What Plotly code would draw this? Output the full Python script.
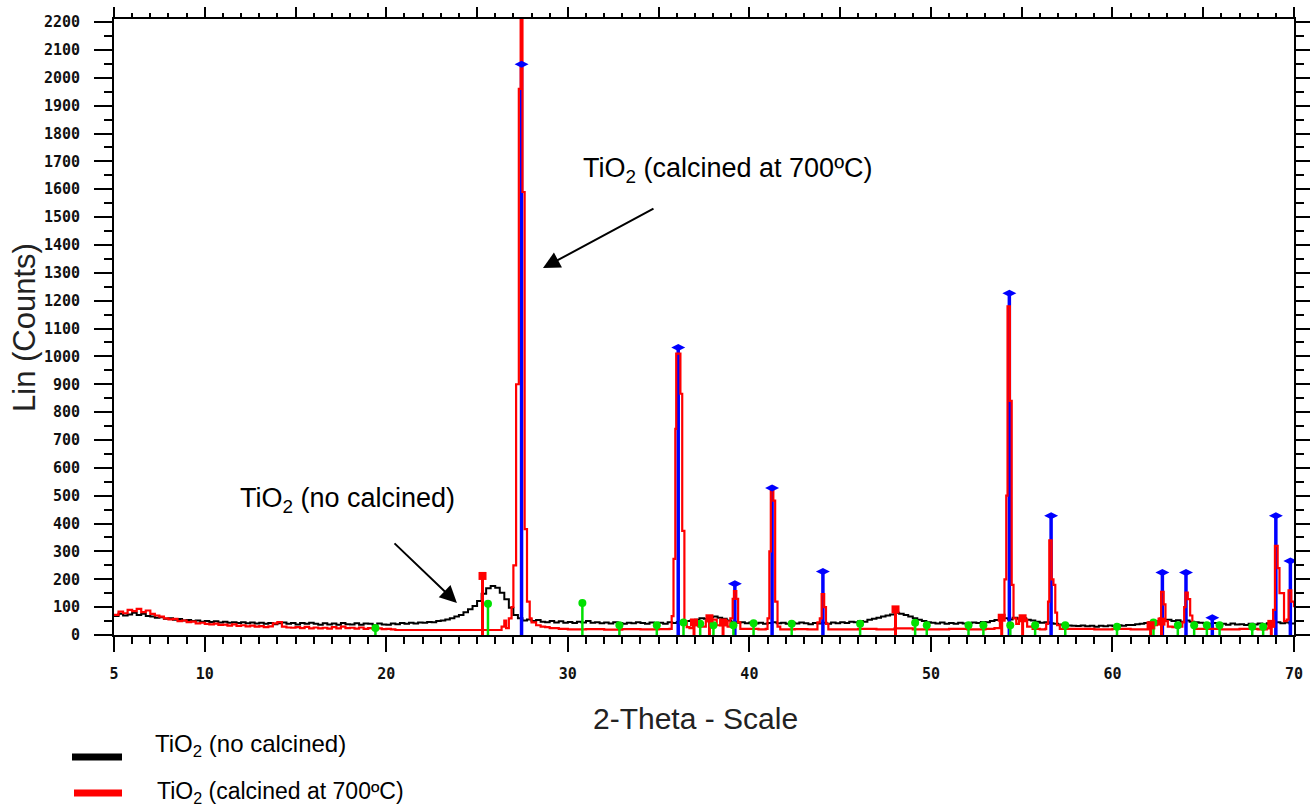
import plotly.graph_objects as go

# ---------------------------------------------------------------- data
# TiO2 (no calcined): step scan from 5 to 70 deg 2-theta, 0.25 deg step
black_start, black_step = 5.0, 0.25
black_counts = [
    68, 76, 70, 74,   80, 72, 76, 68,   66, 62, 64, 58,   60, 55, 57, 52,   # 5-9
    54, 50, 52, 48,   50, 47, 49, 45,   48, 44, 46, 43,   46, 42, 45, 41,   # 9-13
    44, 40, 43, 39,   42, 45, 40, 43,   38, 43, 40, 44,   40, 37, 42, 38,   # 13-17
    41, 37, 43, 39,   38, 42, 37, 41,   40, 36, 41, 38,   37, 41, 39, 43,   # 17-21
    40, 44, 41, 45,   44, 47, 46, 50,   52, 56, 60, 66,   72, 82, 92, 104,  # 21-25
    122, 148, 168, 176, 170, 152, 128, 98, 72, 60, 52, 56, 50, 54, 48, 46,  # 25-29
    50, 45, 49, 44,   47, 43, 48, 45,   50, 44, 46, 42,   45, 41, 46, 43,   # 29-33
    40, 44, 42, 46,   43, 40, 45, 42,   44, 40, 46, 43,   47, 44, 50, 52,   # 33-37
    55, 60, 58, 64,   66, 62, 58, 52,   48, 44, 46, 42,   45, 41, 44, 40,   # 37-41
    43, 46, 42, 44,   40, 44, 41, 45,   42, 39, 43, 41,   44, 40, 45, 42,   # 41-45
    46, 43, 48, 46,   50, 48, 55, 58,   62, 66, 70, 74,   80, 76, 72, 66,   # 45-49
    60, 55, 50, 46,   44, 41, 45, 40,   43, 40, 44, 41,   42, 45, 43, 47,   # 49-53
    46, 50, 54, 58,   60, 56, 62, 58,   60, 55, 52, 48,   44, 46, 42, 40,   # 53-57
    38, 36, 34, 33,   32, 34, 31, 33,   30, 33, 31, 34,   32, 35, 33, 36,   # 57-61
    36, 39, 40, 43,   46, 50, 48, 52,   55, 50, 53, 48,   52, 48, 46, 44,   # 61-65
    42, 40, 43, 39,   40, 37, 41, 38,   39, 36, 40, 38,   41, 38, 42, 45,   # 65-69
    46, 42, 45, 41,   40,                                                     # 69-70
]
black_theta = [black_start + black_step * i for i in range(len(black_counts))]

# TiO2 (calcined at 700 C): (2-theta, counts)
red_points = [
    (5.0, 72), (5.25, 84), (5.5, 78), (5.75, 90), (6.0, 86), (6.25, 94), (6.5, 82), (6.75, 88),
    (7.0, 76), (7.25, 70), (7.5, 66), (7.75, 60), (8.0, 56), (8.25, 58), (8.5, 50), (8.75, 52),
    (9.0, 46), (9.25, 48), (9.5, 42), (9.75, 44), (10.0, 40), (10.25, 38), (10.5, 41), (10.75, 36),
    (11.0, 37), (11.25, 34), (11.5, 38), (11.75, 33), (12.0, 35), (12.25, 31), (12.5, 34), (12.75, 30),
    (13.0, 32), (13.25, 28), (13.5, 31), (13.75, 42), (14.0, 46), (14.25, 30), (14.5, 27), (14.75, 26),
    (15.0, 28), (15.25, 25), (15.5, 29), (15.75, 24), (16.0, 27), (16.25, 24), (16.5, 26), (16.75, 23),
    (17.0, 28), (17.25, 24), (17.5, 30), (17.75, 25), (18.0, 26), (18.25, 23), (18.5, 27), (18.75, 22),
    (19.0, 25), (19.25, 22), (19.5, 24), (19.75, 21), (20.0, 22), (20.25, 20), (20.5, 18), (26.2, 18),
    (26.35, 30), (26.5, 52), (26.6, 25), (26.75, 60), (26.9, 100), (27.0, 250), (27.15, 900),
    (27.3, 1960), (27.4, 2350), (27.5, 1590), (27.62, 380), (27.75, 120), (27.9, 60), (28.0, 45),
    (28.25, 35), (28.5, 30), (28.75, 28), (29.0, 25), (29.5, 22), (30.0, 20), (31.0, 21), (32.0, 19),
    (33.0, 21), (34.0, 20), (35.0, 21), (35.6, 22), (35.72, 68), (35.82, 273), (35.92, 740),
    (35.97, 1010), (36.2, 866), (36.3, 374), (36.42, 50), (36.55, 28), (36.7, 25), (36.9, 45),
    (37.2, 30), (37.6, 50), (37.9, 55), (38.2, 35), (38.5, 50), (38.8, 30), (38.95, 60), (39.08, 130),
    (39.15, 158), (39.28, 130), (39.38, 45), (39.5, 22), (40.0, 22), (40.5, 20), (40.9, 22), (41.0, 60),
    (41.1, 300), (41.18, 532), (41.32, 482), (41.42, 120), (41.55, 30), (41.7, 20), (42.5, 21),
    (43.2, 20), (43.75, 45), (43.88, 60), (43.98, 147), (44.12, 100), (44.22, 40), (44.35, 20),
    (45.0, 20), (46.0, 22), (47.0, 20), (48.0, 24), (49.0, 20), (50.0, 20), (51.0, 22), (52.0, 20),
    (53.0, 22), (53.5, 25), (53.8, 55), (53.95, 70), (54.05, 200), (54.15, 500), (54.22, 1180),
    (54.35, 840), (54.45, 180), (54.55, 60), (54.7, 40), (54.85, 60), (55.1, 55), (55.3, 30),
    (55.6, 22), (56.0, 20), (56.3, 22), (56.35, 40), (56.45, 120), (56.52, 340), (56.65, 200),
    (56.75, 180), (56.85, 80), (56.95, 35), (57.1, 22), (58.0, 22), (59.0, 20), (60.0, 22), (61.0, 20),
    (62.0, 24), (62.3, 35), (62.45, 50), (62.6, 60), (62.68, 155), (62.82, 110), (62.92, 50),
    (63.05, 30), (63.3, 28), (63.6, 30), (63.85, 45), (63.95, 100), (64.02, 152), (64.15, 129),
    (64.28, 70), (64.4, 35), (64.55, 22), (65.0, 22), (66.0, 20), (67.0, 22), (68.0, 20), (68.5, 24),
    (68.7, 50), (68.85, 90), (68.95, 320), (69.1, 240), (69.2, 150), (69.35, 150), (69.45, 50),
    (69.6, 55), (69.7, 160), (69.85, 120), (70.0, 100),
]
red_theta = [p[0] for p in red_points]
red_counts = [p[1] for p in red_points]

# reference patterns (stick positions and intensities)
rutile_theta = [27.45, 36.08, 39.2, 41.25, 44.05, 54.32, 56.62, 62.75, 64.05, 65.5, 69.0, 69.8]
rutile_counts = [2049, 1032, 184, 528, 228, 1227, 428, 224, 224, 62, 428, 266]

anatase_theta = [25.3, 36.95, 37.8, 38.55, 48.05, 53.9, 55.05, 62.1, 62.7, 68.75]
anatase_counts = [212, 45, 60, 45, 92, 62, 60, 35, 48, 40]

third_theta = [19.4, 25.6, 30.8, 32.84, 34.9, 36.37, 37.29, 38.02, 39.12, 40.23, 42.33, 46.1,
               49.13, 49.77, 52.07, 52.89, 54.37, 55.74, 57.4, 60.25, 62.26, 63.6, 64.5, 65.2,
               65.9, 67.7, 68.3]
third_counts = [25, 112, 115, 35, 35, 45, 40, 35, 35, 42, 40, 40, 44, 35, 35, 35, 35, 35, 35, 30,
                45, 35, 35, 35, 35, 30, 30]

y_ticks = list(range(0, 2201, 100))
x_ticks = [5, 10, 20, 30, 40, 50, 60, 70]

# ---------------------------------------------------------------- layout geometry
W, H = 1310, 808
PL, PR, PT, PB = 114, 1294, 19, 635


def px_x(px):
    return (px - PL) / (PR - PL)


def px_y(py):
    return (PB - py) / (PB - PT)


def sticks(thetas, heights):
    xs, ys = [], []
    for t, h in zip(thetas, heights):
        xs += [t, t, None]
        ys += [0, h, None]
    return xs, ys


BLACK, RED, BLUE, GREEN = "#000000", "#ff0000", "#0000ff", "#00e000"
TXT = "Liberation Sans, Arial, sans-serif"

fig = go.Figure()

fig.add_trace(go.Scatter(x=black_theta, y=black_counts, mode="lines", line_shape="hv",
                         line=dict(color=BLACK, width=2), hoverinfo="skip", showlegend=False))

bx, by = sticks(rutile_theta, rutile_counts)
fig.add_trace(go.Scatter(x=bx, y=by, mode="lines", line=dict(color=BLUE, width=3.5),
                         hoverinfo="skip", showlegend=False))

fig.add_trace(go.Scatter(x=red_theta, y=red_counts, mode="lines", line_shape="hv",
                         line=dict(color=RED, width=2.2), hoverinfo="skip", showlegend=False))

ax_, ay_ = sticks(anatase_theta, anatase_counts)
fig.add_trace(go.Scatter(x=ax_, y=ay_, mode="lines", line=dict(color=RED, width=3),
                         hoverinfo="skip", showlegend=False))

gx, gy = sticks(third_theta, third_counts)
fig.add_trace(go.Scatter(x=gx, y=gy, mode="lines", line=dict(color=GREEN, width=2.5),
                         hoverinfo="skip", showlegend=False))

fig.add_trace(go.Scatter(x=third_theta, y=third_counts, mode="markers",
                         marker=dict(symbol="circle", size=8, color=GREEN),
                         hoverinfo="skip", showlegend=False))
fig.add_trace(go.Scatter(x=anatase_theta, y=anatase_counts, mode="markers",
                         marker=dict(symbol="square", size=8, color=RED),
                         hoverinfo="skip", showlegend=False))
fig.add_trace(go.Scatter(x=rutile_theta, y=rutile_counts, mode="markers",
                         marker=dict(symbol="diamond-wide", size=10, color=BLUE),
                         hoverinfo="skip", showlegend=False))

# carrier for the top tick scale
fig.add_trace(go.Scatter(x=[5, 70], y=[0, 0], xaxis="x2", mode="lines",
                         line=dict(width=0), hoverinfo="skip", showlegend=False))

tick_font = dict(family="DejaVu Sans Mono, monospace", size=15, color="#111111", weight="bold")

fig.update_layout(
    width=W, height=H, autosize=False,
    margin=dict(l=PL, r=W - PR, t=PT, b=H - PB, pad=0, autoexpand=False),
    paper_bgcolor="white", plot_bgcolor="white",
    xaxis=dict(range=[5, 70], tickmode="array", tickvals=x_ticks, automargin=False,
               ticktext=[str(v) for v in x_ticks], ticks="outside", ticklen=15, tickwidth=2,
               tickcolor="black", tickfont=tick_font, ticklabelstandoff=9,
               minor=dict(dtick=1, tick0=5, ticks="outside", ticklen=7, tickwidth=1.5,
                          tickcolor="black", showgrid=False),
               showline=True, linecolor="black", linewidth=2, showgrid=False, zeroline=False),
    xaxis2=dict(range=[5, 70], overlaying="x", side="top", anchor="y", tickmode="linear",
                automargin=False,
                tick0=5, dtick=5, ticks="outside", ticklen=10, tickwidth=1.5, tickcolor="black",
                showticklabels=False,
                minor=dict(dtick=1, tick0=5, ticks="outside", ticklen=4, tickwidth=1.5,
                           tickcolor="black", showgrid=False),
                showline=True, linecolor="black", linewidth=2, showgrid=False, zeroline=False),
    yaxis=dict(range=[0, 2211], tickmode="array", tickvals=y_ticks, automargin=False,
               ticktext=[str(v) for v in y_ticks], ticks="outside", ticklen=18, tickwidth=2,
               tickcolor="black", tickfont=tick_font, ticklabelstandoff=11,
               minor=dict(dtick=50, tick0=0, ticks="outside", ticklen=8, tickwidth=1.5,
                          tickcolor="black", showgrid=False),
               showline=True, linecolor="black", linewidth=2, mirror="ticks",
               showgrid=False, zeroline=False),
)

annotations = [
    # axis titles
    dict(text="Lin (Counts)", xref="paper", yref="paper", x=px_x(24), y=px_y(328),
         textangle=-90, showarrow=False, xanchor="center", yanchor="middle",
         font=dict(family=TXT, size=31, color="#222222")),
    dict(text="2-Theta - Scale", xref="paper", yref="paper", x=px_x(695), y=px_y(718),
         showarrow=False, xanchor="center", yanchor="middle",
         font=dict(family=TXT, size=30, color="#222222")),
    # labels inside the plot
    dict(text="TiO<sub>2</sub> (calcined at 700ºC)", xref="paper", yref="paper",
         x=px_x(581), y=px_y(170), showarrow=False, xanchor="left", yanchor="middle",
         font=dict(family=TXT, size=27, color="black")),
    dict(text="TiO<sub>2</sub> (no calcined)", xref="paper", yref="paper",
         x=px_x(238), y=px_y(500), showarrow=False, xanchor="left", yanchor="middle",
         font=dict(family=TXT, size=27, color="black")),
    # arrows
    dict(text="", xref="x", yref="y", axref="x", ayref="y", x=28.63, y=1317, ax=34.8, ay=1533,
         showarrow=True, arrowhead=2, arrowsize=1.7, arrowwidth=2, arrowcolor="black"),
    dict(text="", xref="x", yref="y", axref="x", ayref="y", x=23.89, y=115, ax=20.37, ay=334,
         showarrow=True, arrowhead=2, arrowsize=1.7, arrowwidth=2, arrowcolor="black"),
    # key below the chart
    dict(text="TiO<sub>2</sub> (no calcined)", xref="paper", yref="paper",
         x=px_x(153), y=px_y(745), showarrow=False, xanchor="left", yanchor="middle",
         font=dict(family=TXT, size=24, color="black")),
    dict(text="TiO<sub>2</sub> (calcined at 700ºC)", xref="paper", yref="paper",
         x=px_x(155), y=px_y(792), showarrow=False, xanchor="left", yanchor="middle",
         font=dict(family=TXT, size=23, color="black")),
]
fig.update_layout(annotations=annotations)

fig.add_shape(type="line", xref="paper", yref="paper", x0=px_x(72), x1=px_x(122),
              y0=px_y(757), y1=px_y(757), line=dict(color=BLACK, width=7))
fig.add_shape(type="line", xref="paper", yref="paper", x0=px_x(74), x1=px_x(122),
              y0=px_y(793), y1=px_y(793), line=dict(color=RED, width=7))

fig.write_html("out.html")
